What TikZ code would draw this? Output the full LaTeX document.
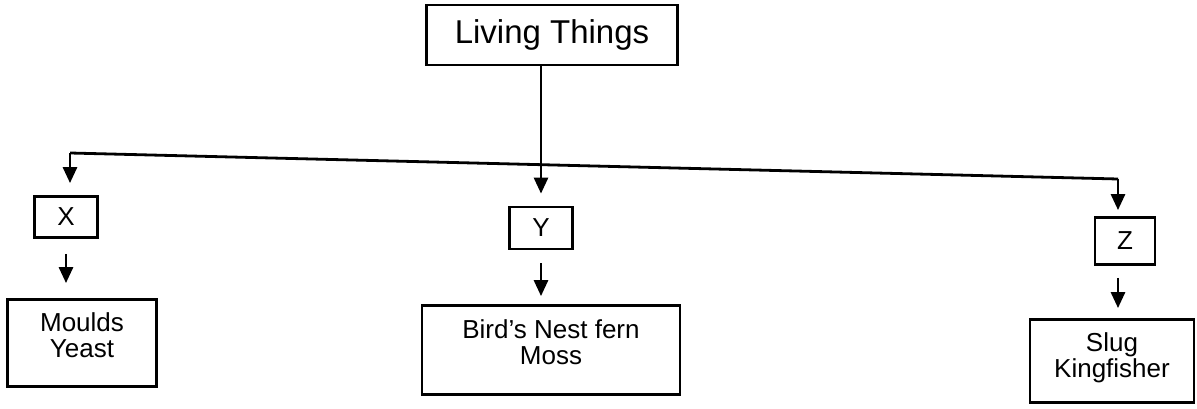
\documentclass[tikz,border=0pt]{standalone}
\usepackage{fontspec}
\setmainfont{Liberation Sans}
\usetikzlibrary{arrows.meta}

\begin{document}
\begin{tikzpicture}[x=1pt, y=-1pt, line width=2.8pt,
	box/.style={draw, line width=2.8pt, align=center, inner sep=0pt,
		font=\fontsize{26}{26}\selectfont},
	link/.style={-{Triangle[length=16pt, width=14pt]}, line width=2.8pt}]
	\useasboundingbox (0,0) rectangle (1197,409);
	
	% root
	\node[box, minimum width=251pt, minimum height=60pt,
		font=\fontsize{33}{33}\selectfont] (living) at (552,35) {Living Things};
	
	% groups
	\node[box, minimum width=63pt, minimum height=41pt] (x) at (66,217) {X};
	\node[box, minimum width=63pt, minimum height=42pt] (y) at (541,228) {Y};
	\node[box, minimum width=60pt, minimum height=47pt] (z) at (1125,241) {Z};
	
	% examples
	\node[box, minimum width=149pt, minimum height=87pt, text depth=16pt] (moulds) at (82,343) {Moulds\\Yeast};
	\node[box, minimum width=258pt, minimum height=89pt, text depth=16pt] (bird) at (551,350) {Bird's Nest fern\\Moss};
	\node[box, minimum width=164pt, minimum height=83pt, text depth=12pt] (slug) at (1112,361) {Slug\\Kingfisher};
	
	% branch bar
	\coordinate (barl) at (70,153);
	\coordinate (barr) at (1118,179);
	\draw (barl) -- (barr);
	
	\draw[link, shorten >=12pt] (living.south -| y.north) -- (y.north);
	\draw[link, shorten >=12pt] (barl) -- (barl |- x.north);
	\draw[link, shorten >=6pt] (barr) -- (barr |- z.north);
	
	\draw[link, shorten <=15pt, shorten >=15pt] (x.south) -- (x.south |- moulds.north);
	\draw[link, shorten <=13pt, shorten >=8pt] (y.south) -- (y.south |- bird.north);
	\draw[link, shorten <=12pt, shorten >=10pt] (barr |- z.south) -- (barr |- slug.north);
\end{tikzpicture}
\end{document}
